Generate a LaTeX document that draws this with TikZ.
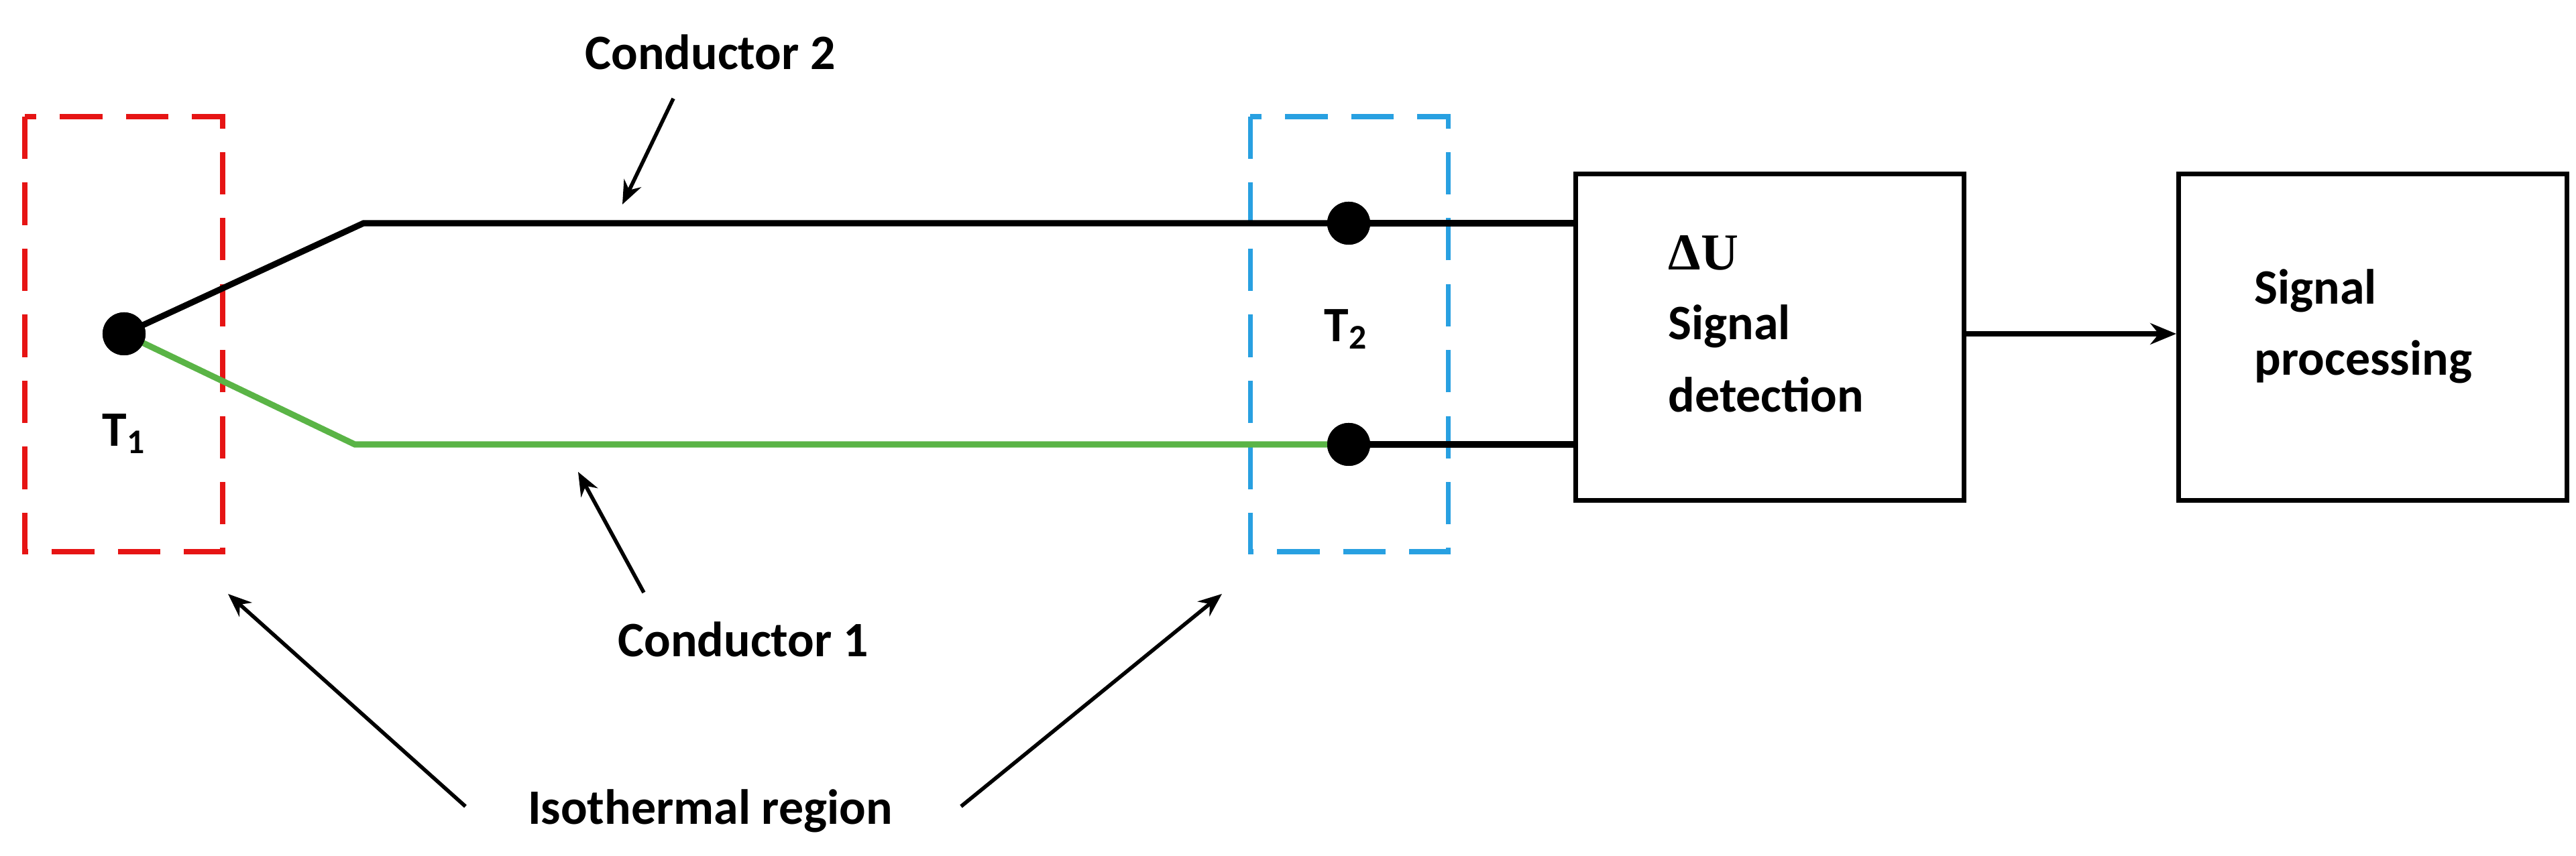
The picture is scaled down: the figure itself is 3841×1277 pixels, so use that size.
\documentclass[tikz,border=0pt]{standalone}
\usepackage{fontspec}
\setmainfont{Carlito}
\newfontfamily\serifb{Liberation Serif}
\usetikzlibrary{arrows.meta}
\definecolor{myred}{RGB}{230,20,20}
\definecolor{myblue}{RGB}{40,160,225}
\definecolor{mygreen}{RGB}{90,180,70}
\begin{document}
\begin{tikzpicture}[x=0.01cm,y=-0.01cm,
  lbl/.style={font=\fontsize{21}{25}\selectfont\bfseries, inner sep=0pt},
  wire/.style={line width=2.6pt},
  iso/.style={line width=2pt, dash pattern=on 18pt off 10pt},
  box/.style={draw, line width=2pt, minimum width=5.79cm, minimum height=4.87cm, inner sep=0pt},
  dot/.style={circle, fill=black, minimum size=0.64cm, inner sep=0pt},
  ptr/.style={line width=1.6pt, -{Stealth[length=10pt,width=8pt]}}]
\useasboundingbox (0,0) rectangle (3841,1277);
% isothermal boxes
\draw[iso, myred] (37,174) rectangle (332,823);
\draw[iso, myblue] (1864,174) rectangle (2159,823);
% nodes
\node[dot] (j1) at (185,498) {};
\node[dot] (j2) at (2011,333) {};
\node[dot] (j3) at (2011,663) {};
\coordinate (b2) at (542,333);
\coordinate (b1) at (529,663);
\node[box, anchor=north west] (det) at (2346,256) {};
\node[box, anchor=north west] (proc) at (3245,256) {};
% wires
\draw[wire] (j1.center) -- (b2) -- (j2.center);
\draw[wire, mygreen] (j1.center) -- (b1) -- (j3.center);
\draw[wire] (j2.center) -- (det.west |- j2);
\draw[wire] (j3.center) -- (det.west |- j3);
\node[dot] at (j1) {};
\node[dot] at (j2) {};
\node[dot] at (j3) {};
\draw[line width=2.4pt, -{Stealth[length=11pt,width=9pt]}] (det.east |- j1) -- (proc.west |- j1);
% texts
\node[lbl] (t1) at (185,647) {T\textsubscript{1}};
\node[lbl] (t2) at (2007,491) {T\textsubscript{2}};
\node[lbl, anchor=west, font=\serifb\fontsize{22}{25}\selectfont\bfseries] (du) at (2487,377) {ΔU};
\node[lbl, anchor=west] (sd) at (2487,487) {Signal};
\node[lbl, anchor=west] (sd2) at (2487,589) {detection};
\node[lbl, anchor=west] (sp) at (3361,434) {Signal};
\node[lbl, anchor=west] (sp2) at (3361,540) {processing};
\node[lbl] (c2) at (1059,78) {Conductor 2};
\node[lbl] (c1) at (1108,954) {Conductor 1};
\node[lbl] (ir) at (1059,1210) {Isothermal region};
% pointers
\coordinate (c2s) at (1004,147); \coordinate (c2e) at (928,305);
\coordinate (c1s) at (960,884); \coordinate (c1e) at (862,704);
\coordinate (irs1) at (694,1203); \coordinate (ire1) at (340,886);
\coordinate (irs2) at (1433,1203); \coordinate (ire2) at (1822,886);
\draw[ptr] (c2s) -- (c2e);
\draw[ptr] (c1s) -- (c1e);
\draw[ptr] (irs1) -- (ire1);
\draw[ptr] (irs2) -- (ire2);
\end{tikzpicture}
\end{document}
